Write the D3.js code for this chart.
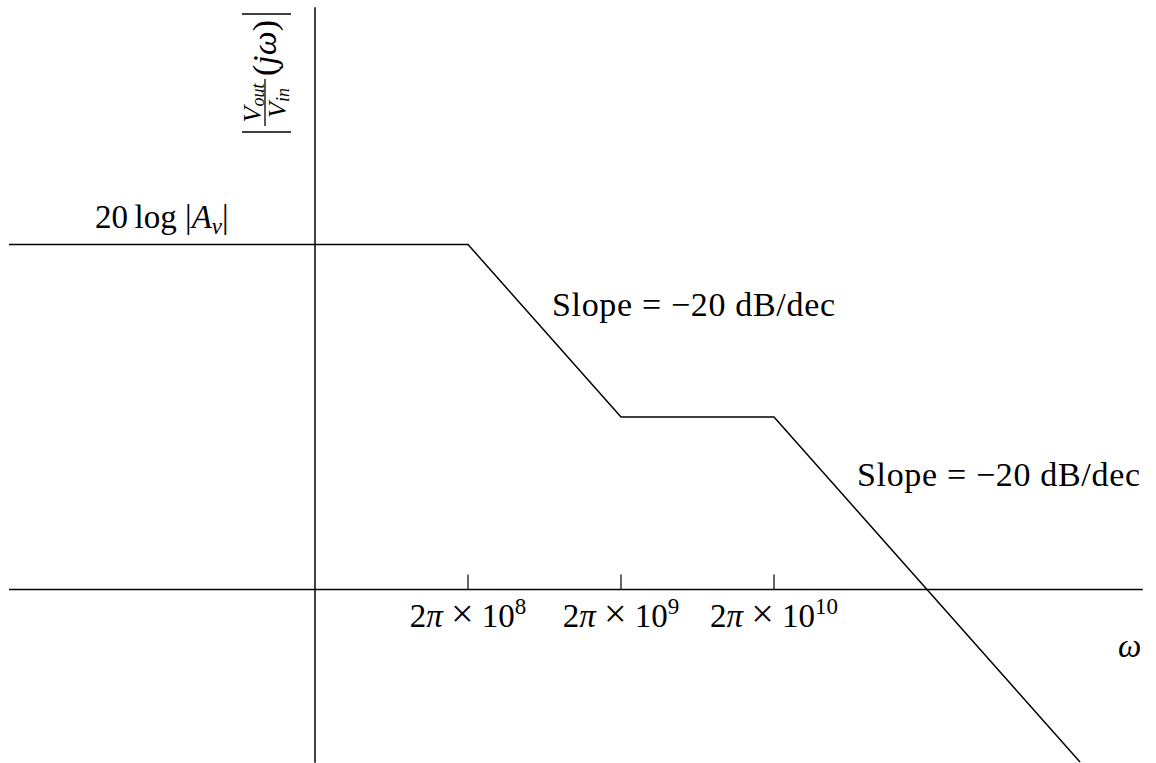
<!DOCTYPE html>
<html>
<head>
<meta charset="utf-8">
<script src="https://cdn.jsdelivr.net/npm/d3@7"></script>
<style>
  html, body { margin: 0; padding: 0; background: #fff; }
  svg { display: block; }
  text { font-family: "Liberation Serif", "DejaVu Serif", serif; fill: #000; }
</style>
</head>
<body>
<svg id="chart" width="1156" height="763"></svg>
<script>
const TWO_PI = 2 * Math.PI;

// Asymptotic magnitude response (angular frequency in rad/s, gain in dB)
const curveOmega = [TWO_PI * 1e5, TWO_PI * 1e8, TWO_PI * 1e9, TWO_PI * 1e10, TWO_PI * 1e12];
const curveDb = [40, 40, 20, 20, -20];

// Marked corner frequencies on the ω axis
const tickOmega = [TWO_PI * 1e8, TWO_PI * 1e9, TWO_PI * 1e10];
const tickExponents = ["8", "9", "10"];

// Axis extents
const omegaExtent = [TWO_PI * 1e5, TWO_PI * Math.pow(10, 12.41)];
const dbExtent = [-20.1, 67.5];
const yAxisOmega = TWO_PI * 1e7;

// Annotation texts
const gainLabel = ["20", "log", "A", "v"];
const slopeLabels = ["Slope = \u221220 dB/dec", "Slope = \u221220 dB/dec"];

const svg = d3.select("#chart");

const x = d3.scaleLog()
  .domain([TWO_PI * 1e8, TWO_PI * 1e10])
  .range([468, 774]);

const y = d3.scaleLinear()
  .domain([0, 40])
  .range([589.5, 244.5]);

const stroke = { color: "#000", width: 1.5 };

// Horizontal (ω) axis
svg.append("line")
  .attr("x1", x(omegaExtent[0])).attr("x2", x(omegaExtent[1]))
  .attr("y1", y(0)).attr("y2", y(0))
  .attr("stroke", stroke.color).attr("stroke-width", stroke.width);

// Vertical (magnitude) axis
svg.append("line")
  .attr("x1", x(yAxisOmega)).attr("x2", x(yAxisOmega))
  .attr("y1", y(dbExtent[1])).attr("y2", y(dbExtent[0]))
  .attr("stroke", stroke.color).attr("stroke-width", stroke.width);

// Ticks at the corner frequencies
svg.selectAll("line.tick")
  .data(tickOmega)
  .join("line")
  .attr("class", "tick")
  .attr("x1", d => x(d)).attr("x2", d => x(d))
  .attr("y1", y(0) - 15).attr("y2", y(0))
  .attr("stroke", stroke.color).attr("stroke-width", 1.2);

// Tick labels: 2π × 10^n
const tickLabels = svg.selectAll("text.ticklabel")
  .data(tickOmega.map((w, i) => ({ w, e: tickExponents[i] })))
  .join("text")
  .attr("class", "ticklabel")
  .attr("x", d => x(d.w))
  .attr("y", 627)
  .attr("text-anchor", "middle")
  .attr("font-size", 33);
tickLabels.each(function (d) {
  const t = d3.select(this);
  t.append("tspan").text("2");
  t.append("tspan").attr("font-style", "italic").text("\u03C0 ");
  t.append("tspan").attr("font-size", 40).text("\u00D7");
  t.append("tspan").text(" 10");
  t.append("tspan").attr("font-size", 23).attr("dy", -13).text(d.e);
});

// Bode magnitude asymptotes
const pts = curveOmega.map((w, i) => [w, curveDb[i]]);
svg.append("path")
  .datum(pts)
  .attr("d", d3.line().x(d => x(d[0])).y(d => y(d[1])))
  .attr("fill", "none")
  .attr("stroke", stroke.color)
  .attr("stroke-width", stroke.width)
  .attr("stroke-linejoin", "miter");

// Low-frequency gain label: 20 log |A_v|
const g = svg.append("text").attr("x", 95).attr("y", 228).attr("font-size", 33);
g.append("tspan").text(gainLabel[0] + "\u2009" + gainLabel[1] + " |");
g.append("tspan").attr("font-style", "italic").text(gainLabel[2]);
g.append("tspan").attr("font-style", "italic").attr("font-size", 23).attr("dy", 6).text(gainLabel[3]);
g.append("tspan").attr("dy", -6).text("|");

// Slope annotations
const slopePos = [[552, 316], [857, 486]];
svg.selectAll("text.slope")
  .data(slopeLabels)
  .join("text")
  .attr("class", "slope")
  .attr("x", (d, i) => slopePos[i][0])
  .attr("y", (d, i) => slopePos[i][1])
  .attr("font-size", 34)
  .attr("textLength", 283)
  .attr("lengthAdjust", "spacing")
  .text(d => d);

// ω axis label
svg.append("text")
  .attr("x", 1118).attr("y", 657)
  .attr("font-size", 33)
  .attr("font-style", "italic")
  .text("\u03C9");

// Rotated magnitude label: |V_out / V_in (jω)|
const yl = svg.append("g").attr("transform", "translate(265,133) rotate(-90)");
// delimiters
[1, 119].forEach(px => {
  yl.append("line")
    .attr("x1", px).attr("x2", px)
    .attr("y1", -23).attr("y2", 26)
    .attr("stroke", "#000").attr("stroke-width", 1.3);
});
// fraction bar
yl.append("line")
  .attr("x1", 7).attr("x2", 54)
  .attr("y1", 0).attr("y2", 0)
  .attr("stroke", "#000").attr("stroke-width", 1.3);
const num = yl.append("text").attr("x", 30).attr("y", -4).attr("text-anchor", "middle").attr("font-size", 26);
num.append("tspan").attr("font-style", "italic").text("V");
num.append("tspan").attr("font-style", "italic").attr("font-size", 18).attr("dy", 3).text("out");
const den = yl.append("text").attr("x", 30).attr("y", 21).attr("text-anchor", "middle").attr("font-size", 26);
den.append("tspan").attr("font-style", "italic").text("V");
den.append("tspan").attr("font-style", "italic").attr("font-size", 18).attr("dy", 3).text("in");
const jw = yl.append("text").attr("x", 57).attr("y", 11).attr("font-size", 34);
jw.append("tspan").text("(");
jw.append("tspan").attr("font-style", "italic").text("j\u03C9");
jw.append("tspan").text(")");
</script>
</body>
</html>
